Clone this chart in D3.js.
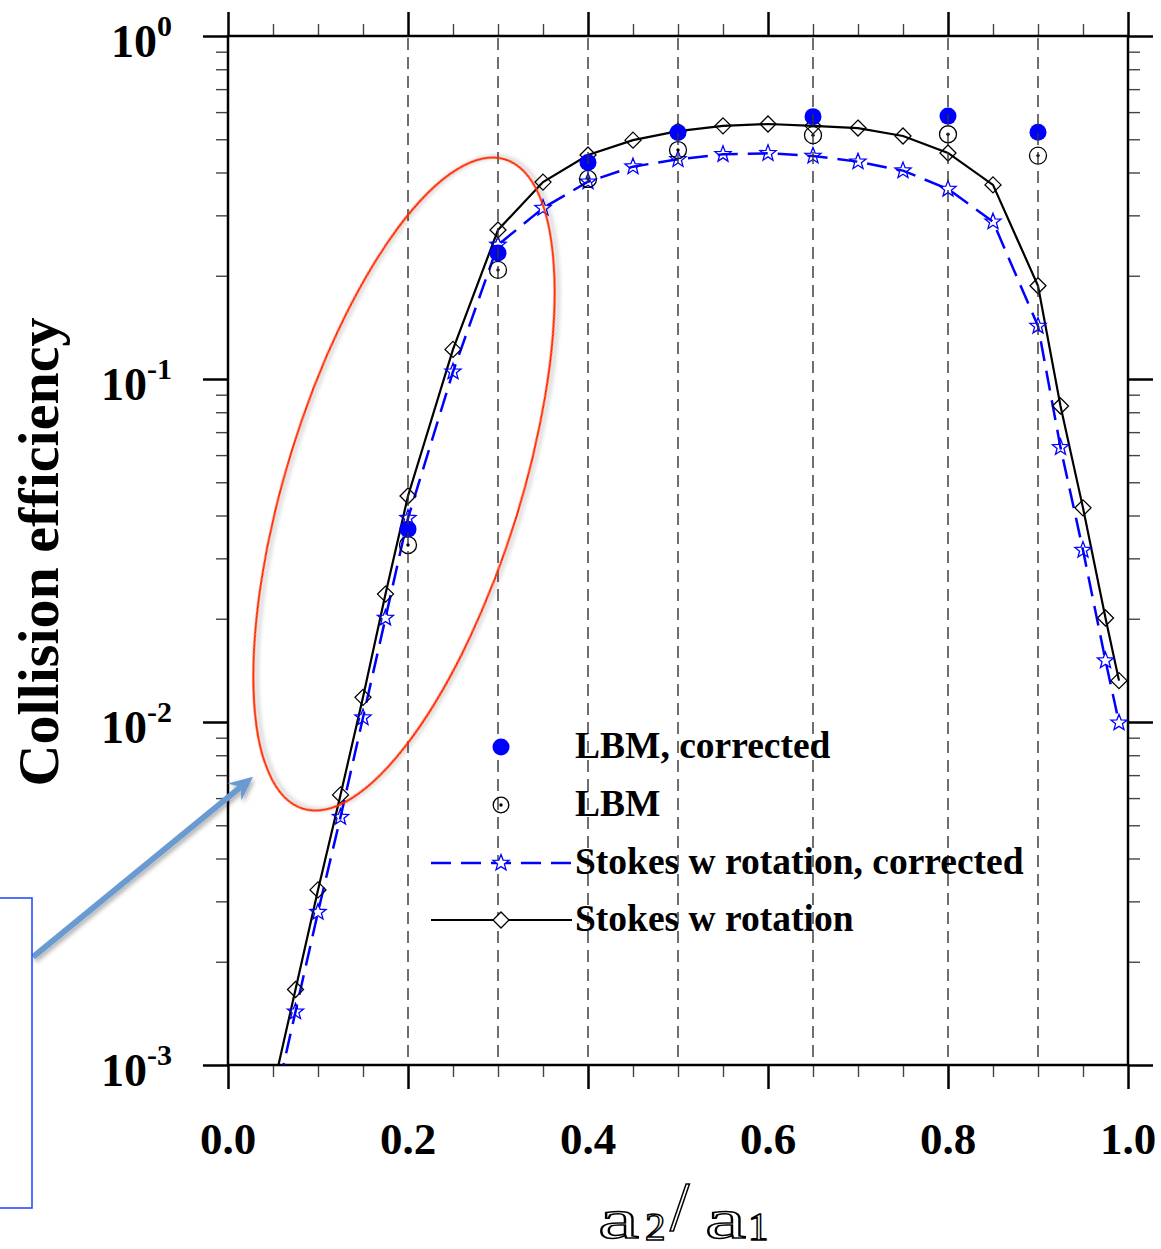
<!DOCTYPE html>
<html>
<head>
<meta charset="utf-8">
<script src="https://cdn.jsdelivr.net/npm/d3@7/dist/d3.min.js"></script>
<style>
  html, body { margin: 0; padding: 0; background: #fff; }
  svg { display: block; }
  text { font-family: "Liberation Serif", "Times New Roman", serif; }
</style>
</head>
<body>
<svg id="chart" width="1161" height="1249"></svg>
<script>
// Size ratio a2/a1 sampled by the Stokes-with-rotation model
const stokesX = [0.05, 0.075, 0.1, 0.125, 0.15, 0.175, 0.2, 0.25, 0.3, 0.35, 0.4, 0.45,
                 0.5, 0.55, 0.6, 0.65, 0.7, 0.75, 0.8, 0.85, 0.9, 0.925, 0.95, 0.975, 0.99];
// Stokes w rotation
const stokes = [0.00085, 0.00166, 0.00324, 0.00613, 0.0118, 0.0236, 0.0456, 0.122, 0.272, 0.375,
                0.450, 0.497, 0.528, 0.547, 0.554, 0.547, 0.539, 0.511, 0.456, 0.368,
                0.187, 0.0834, 0.0421, 0.0201, 0.0132];
// Stokes w rotation, corrected
const stokesCorr = [0.00073, 0.00143, 0.00279, 0.00528, 0.0103, 0.0201, 0.0393, 0.105, 0.246, 0.315,
                    0.376, 0.416, 0.437, 0.452, 0.455, 0.447, 0.430, 0.405, 0.358, 0.2875,
                    0.1427, 0.0632, 0.0317, 0.0151, 0.00995];
// LBM runs
const lbmX = [0.2, 0.3, 0.4, 0.5, 0.65, 0.8, 0.9];
const lbmCorr = [0.0365, 0.233, 0.428, 0.523, 0.582, 0.584, 0.524];
const lbm = [0.0328, 0.208, 0.383, 0.465, 0.514, 0.517, 0.448];

// Axis ticks
const xMajor = [0, 0.2, 0.4, 0.6, 0.8, 1.0];
const xMajorLabels = ["0.0", "0.2", "0.4", "0.6", "0.8", "1.0"];
const xMinor = d3.range(0, 21).map(i => i * 0.05).filter(v => !xMajor.some(m => Math.abs(m - v) < 1e-9));
const yMajor = [1e-3, 1e-2, 1e-1, 1];
const yExponents = ["-3", "-2", "-1", "0"];
const gridX = [0.2, 0.3, 0.4, 0.5, 0.65, 0.8, 0.9];

const legendLabels = ["LBM, corrected", "LBM", "Stokes w rotation, corrected", "Stokes w rotation"];

const svg = d3.select("#chart");
const L = 228, R = 1128, T = 36, B = 1065;
const x = d3.scaleLinear().domain([0, 1]).range([L, R]);
const y = d3.scaleLog().domain([1e-3, 1]).range([B, T]);

const yMinor = [];
for (let e = -3; e < 0; e++) for (let k = 2; k <= 9; k++) yMinor.push(k * Math.pow(10, e));

const BLUE = "#0000ff";

// drop shadow for the callout shapes
const defs = svg.append("defs");
const sh = defs.append("filter").attr("id", "shadow").attr("x", "-20%").attr("y", "-20%")
  .attr("width", "140%").attr("height", "140%");
sh.append("feDropShadow").attr("dx", 2).attr("dy", 3).attr("stdDeviation", 2)
  .attr("flood-color", "#000").attr("flood-opacity", 0.3);
defs.append("clipPath").attr("id", "plotClip").append("rect")
  .attr("x", L).attr("y", T).attr("width", R - L).attr("height", B - T);

// ---- axes (ticks point outward on all four sides) ----
function styleAxis(g, w, col) {
  g.select(".domain").remove();
  g.selectAll(".tick line").attr("stroke", col).attr("stroke-width", w);
  g.selectAll(".tick text").remove();
}
svg.append("g").attr("transform", `translate(0,${B})`)
  .call(d3.axisBottom(x).tickValues(xMinor).tickSize(12)).call(g => styleAxis(g, 1.4, "#444"));
svg.append("g").attr("transform", `translate(0,${B})`)
  .call(d3.axisBottom(x).tickValues(xMajor).tickSize(24)).call(g => styleAxis(g, 2.5, "#000"));
svg.append("g").attr("transform", `translate(0,${T})`)
  .call(d3.axisTop(x).tickValues(xMinor).tickSize(12)).call(g => styleAxis(g, 1.4, "#444"));
svg.append("g").attr("transform", `translate(0,${T})`)
  .call(d3.axisTop(x).tickValues(xMajor).tickSize(24)).call(g => styleAxis(g, 2.5, "#000"));
svg.append("g").attr("transform", `translate(${L},0)`)
  .call(d3.axisLeft(y).tickValues(yMinor).tickSize(12)).call(g => styleAxis(g, 1.4, "#444"));
svg.append("g").attr("transform", `translate(${L},0)`)
  .call(d3.axisLeft(y).tickValues(yMajor).tickSize(25)).call(g => styleAxis(g, 2.5, "#000"));
svg.append("g").attr("transform", `translate(${R},0)`)
  .call(d3.axisRight(y).tickValues(yMinor).tickSize(12)).call(g => styleAxis(g, 1.4, "#444"));
svg.append("g").attr("transform", `translate(${R},0)`)
  .call(d3.axisRight(y).tickValues(yMajor).tickSize(25)).call(g => styleAxis(g, 2.5, "#000"));

// frame
svg.append("rect").attr("x", L).attr("y", T).attr("width", R - L).attr("height", B - T)
  .attr("fill", "none").attr("stroke", "#000").attr("stroke-width", 2.5);

// x tick labels
svg.append("g").selectAll("text").data(xMajor).join("text")
  .attr("x", d => x(d)).attr("y", B + 89).attr("text-anchor", "middle")
  .attr("font-size", 45).attr("font-weight", "bold").text((d, i) => xMajorLabels[i]);

// y tick labels: 10 with superscript exponent
const yl = svg.append("g").selectAll("text").data(yMajor).join("text")
  .attr("x", 172).attr("y", d => y(d) + 21).attr("text-anchor", "end")
  .attr("font-weight", "bold");
yl.append("tspan").attr("font-size", 46).text("10");
yl.append("tspan").attr("font-size", 30).attr("dy", -21).text((d, i) => yExponents[i]);

// axis titles
svg.append("text").attr("transform", `translate(58,${552}) rotate(-90)`)
  .attr("text-anchor", "middle").attr("font-size", 58).attr("font-weight", "bold")
  .text("Collision efficiency");

// a2/a1 drawn in an outlined face
const xt = svg.append("g").attr("fill", "#fff").attr("stroke", "#000").attr("stroke-width", 1.5)
  .style("font-family", "'DejaVu Serif', serif");
xt.append("text").attr("x", 598).attr("y", 1238).attr("font-size", 56)
  .attr("textLength", 41).attr("lengthAdjust", "spacingAndGlyphs").text("a");
xt.append("text").attr("x", 645).attr("y", 1240).attr("font-size", 41).text("2");
xt.append("text").attr("x", 670).attr("y", 1230).attr("font-size", 70).text("/");
xt.append("text").attr("x", 705).attr("y", 1238).attr("font-size", 56)
  .attr("textLength", 41).attr("lengthAdjust", "spacingAndGlyphs").text("a");
xt.append("text").attr("x", 748).attr("y", 1240).attr("font-size", 41).text("1");

// ---- series ----
function starPath(ro, ri) {
  const pts = [];
  for (let i = 0; i < 10; i++) {
    const r = i % 2 ? ri : ro;
    const a = -Math.PI / 2 + i * Math.PI / 5;
    pts.push([r * Math.cos(a), r * Math.sin(a)]);
  }
  return "M" + pts.map(p => p[0].toFixed(2) + "," + p[1].toFixed(2)).join("L") + "Z";
}
const STAR = starPath(8.5, 3.6);
const DIAMOND = "M0,-8L8,0L0,8L-8,0Z";

const plot = svg.append("g").attr("clip-path", "url(#plotClip)");
const line = d3.line().x(d => x(d[0])).y(d => y(d[1]));

plot.append("path").datum(stokesX.map((v, i) => [v, stokes[i]]))
  .attr("d", line).attr("fill", "none").attr("stroke", "#000").attr("stroke-width", 2.2);
plot.append("path").datum(stokesX.map((v, i) => [v, stokesCorr[i]]))
  .attr("d", line).attr("fill", "none").attr("stroke", BLUE).attr("stroke-width", 2.5)
  .attr("stroke-dasharray", "20,10");

plot.append("g").selectAll("path").data(stokesX.map((v, i) => [v, stokesCorr[i]])).join("path")
  .attr("d", STAR).attr("transform", d => `translate(${x(d[0])},${y(d[1])})`)
  .attr("fill", "none").attr("stroke", BLUE).attr("stroke-width", 1.3);
plot.append("g").selectAll("path").data(stokesX.map((v, i) => [v, stokes[i]])).join("path")
  .attr("d", DIAMOND).attr("transform", d => `translate(${x(d[0])},${y(d[1])})`)
  .attr("fill", "none").attr("stroke", "#000").attr("stroke-width", 1.3);

const open = plot.append("g").selectAll("g").data(lbmX.map((v, i) => [v, lbm[i]])).join("g")
  .attr("transform", d => `translate(${x(d[0])},${y(d[1])})`);
open.append("circle").attr("r", 8.5).attr("fill", "none").attr("stroke", "#000").attr("stroke-width", 1.3);
open.append("circle").attr("r", 1.7).attr("fill", "#000");

plot.append("g").selectAll("circle").data(lbmX.map((v, i) => [v, lbmCorr[i]])).join("circle")
  .attr("cx", d => x(d[0])).attr("cy", d => y(d[1])).attr("r", 8.5).attr("fill", BLUE);

// dashed reference verticals
svg.append("g").selectAll("line").data(gridX).join("line")
  .attr("x1", d => x(d)).attr("x2", d => x(d)).attr("y1", T + 2).attr("y2", B - 2)
  .attr("stroke", "#333").attr("stroke-width", 1.4).attr("stroke-dasharray", "12,7");

// ---- legend ----
const lg = svg.append("g");
const rows = [747, 805, 863, 920];
const mx = 501, tx = 575;
lg.append("circle").attr("cx", mx).attr("cy", rows[0]).attr("r", 8.5).attr("fill", BLUE);
lg.append("circle").attr("cx", mx).attr("cy", rows[1]).attr("r", 7.8).attr("fill", "none")
  .attr("stroke", "#000").attr("stroke-width", 1.3);
lg.append("circle").attr("cx", mx).attr("cy", rows[1]).attr("r", 1.7).attr("fill", "#000");
lg.append("line").attr("x1", 431).attr("x2", 572).attr("y1", rows[2]).attr("y2", rows[2])
  .attr("stroke", BLUE).attr("stroke-width", 2.5).attr("stroke-dasharray", "20,10");
lg.append("path").attr("d", STAR).attr("transform", `translate(${mx},${rows[2]})`)
  .attr("fill", "#fff").attr("stroke", BLUE).attr("stroke-width", 1.3);
lg.append("line").attr("x1", 431).attr("x2", 572).attr("y1", rows[3]).attr("y2", rows[3])
  .attr("stroke", "#000").attr("stroke-width", 2.2);
lg.append("path").attr("d", DIAMOND).attr("transform", `translate(${mx},${rows[3]})`)
  .attr("fill", "#fff").attr("stroke", "#000").attr("stroke-width", 1.3);
lg.selectAll("text.lab").data(legendLabels).join("text").attr("class", "lab")
  .attr("x", tx).attr("y", (d, i) => rows[i] + 11).attr("font-size", 37.5).attr("font-weight", "bold")
  .text(d => d);

// ---- callout: ellipse around the steep rise, arrow to a side box ----
const ec = [x(0.1956), y(0.0494)];
svg.append("ellipse").attr("cx", ec[0]).attr("cy", ec[1]).attr("rx", 340).attr("ry", 117)
  .attr("transform", `rotate(-72.7,${ec[0]},${ec[1]})`)
  .attr("fill", "none").attr("stroke", "#ff2a00").attr("stroke-width", 2)
  .attr("filter", "url(#shadow)");

const tip = [x(0.0278), y(0.00692)];
const tail = [33, 957];
const ux = tip[0] - tail[0], uy = tip[1] - tail[1], ul = Math.hypot(ux, uy);
const u = [ux / ul, uy / ul], n = [-u[1], u[0]];
const hl = 24, hw = 11, notch = 16;
const base = [tip[0] - hl * u[0], tip[1] - hl * u[1]];
const nb = [tip[0] - notch * u[0], tip[1] - notch * u[1]];
const arrow = svg.append("g").attr("filter", "url(#shadow)");
arrow.append("line").attr("x1", tail[0]).attr("y1", tail[1]).attr("x2", nb[0]).attr("y2", nb[1])
  .attr("stroke", "#6b9bd0").attr("stroke-width", 6);
arrow.append("path").attr("d",
  `M${tip[0]},${tip[1]}L${base[0] + hw * n[0]},${base[1] + hw * n[1]}L${nb[0]},${nb[1]}L${base[0] - hw * n[0]},${base[1] - hw * n[1]}Z`)
  .attr("fill", "#6b9bd0");

svg.append("rect").attr("x", -10).attr("y", 898).attr("width", 42).attr("height", 310)
  .attr("fill", "none").attr("stroke", "#2a4dff").attr("stroke-width", 1.6);
</script>
</body>
</html>
